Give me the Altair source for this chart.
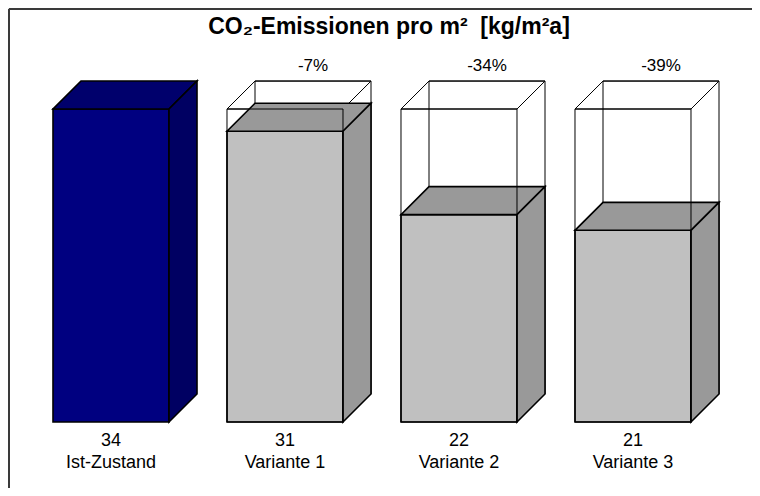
import altair as alt
import pandas as pd

# ---- data ----
categories = ["Ist-Zustand", "Variante 1", "Variante 2", "Variante 3"]
values = [33.8, 31.4, 22.4, 20.7]          # bar heights (kg/m²a)
value_labels = ["34", "31", "22", "21"]
pct_labels = ["", "-7%", "-34%", "-39%"]
title_text = "CO₂-Emissionen pro m²\u00a0 [kg/m²a]"

# ---- layout constants (slot units on x, data units on y) ----
PW, PH = 744, 480   # plot size in px
W = 2 / 3          # front face width as share of a slot
DX = 0.161         # 3D depth on x (slots)
DY = 3.02          # 3D depth on y (data units)
X_DOM = [-0.2586, -0.2586 + PW / 174]
Y_DOM = [-(PH - 414) / 9.26, 414 / 9.26]
REF = values[0]

front_cols = ["#000080", "#c0c0c0", "#c0c0c0", "#c0c0c0"]
top_cols = ["#00006c", "#999999", "#999999", "#999999"]
side_cols = ["#000062", "#999999", "#999999", "#999999"]

front_rows, top_rows, side_rows = [], [], []
wback_rows, wtop_rows, wfront_rows, lab_rows = [], [], [], []
for i, (c, v) in enumerate(zip(categories, values)):
    xl, xr = i, i + W
    front_rows.append(dict(id=c, x=xl, x2=xr, y=0, y2=v, col=front_cols[i]))
    for (px, lo, hi) in [(xl, v, v), (xl + DX, v, v + DY), (xr, v, v + DY), (xr + DX, v + DY, v + DY)]:
        top_rows.append(dict(id=c, x=px, y=lo, y2=hi, col=top_cols[i]))
    for (px, lo, hi) in [(xr, 0, v), (xr + DX, DY, v + DY)]:
        side_rows.append(dict(id=c, x=px, y=lo, y2=hi, col=side_cols[i]))
    lab_rows.append(dict(id=c, xc=xl + W / 2, xb=xl + DX + W / 2, val=value_labels[i],
                         pct=pct_labels[i], ytop=REF + DY))
    if i > 0:
        wback_rows.append(dict(id=c, x=xl + DX, x2=xr + DX, y=DY, y2=REF + DY))
        for (px, lo, hi) in [(xl, REF, REF), (xl + DX, REF, REF + DY), (xr, REF, REF + DY),
                             (xr + DX, REF + DY, REF + DY)]:
            wtop_rows.append(dict(id=c, x=px, y=lo, y2=hi))
        wfront_rows.append(dict(id=c, x=xl, x2=xr, y=0, y2=REF))

front = pd.DataFrame(front_rows)
top = pd.DataFrame(top_rows)
side = pd.DataFrame(side_rows)
wback = pd.DataFrame(wback_rows)
wtop = pd.DataFrame(wtop_rows)
wfront = pd.DataFrame(wfront_rows)
labs = pd.DataFrame(lab_rows)

xs = alt.Scale(domain=X_DOM, nice=False, zero=False)
ys = alt.Scale(domain=Y_DOM, nice=False, zero=False)
X = lambda f: alt.X(f, scale=xs, axis=None)
Y = lambda f: alt.Y(f, scale=ys, axis=None, stack=None)

wire_back = alt.Chart(wback).mark_rect(fillOpacity=0, stroke="#000000", strokeWidth=1).encode(
    x=X("x:Q"), x2="x2:Q", y=Y("y:Q"), y2="y2:Q")
wire_top = alt.Chart(wtop).mark_area(fillOpacity=0, stroke="#000000", strokeWidth=1).encode(
    x=X("x:Q"), y=Y("y:Q"), y2="y2:Q", detail="id:N")
solid_front = alt.Chart(front).mark_rect(stroke="#000000", strokeWidth=1.6).encode(
    x=X("x:Q"), x2="x2:Q", y=Y("y:Q"), y2="y2:Q", fill=alt.Fill("col:N", scale=None))
solid_top = alt.Chart(top).mark_area(stroke="#000000", strokeWidth=1.6, opacity=1).encode(
    x=X("x:Q"), y=Y("y:Q"), y2="y2:Q", detail="id:N", fill=alt.Fill("col:N", scale=None))
solid_side = alt.Chart(side).mark_area(stroke="#000000", strokeWidth=1.6, opacity=1).encode(
    x=X("x:Q"), y=Y("y:Q"), y2="y2:Q", detail="id:N", fill=alt.Fill("col:N", scale=None))
wire_front = alt.Chart(wfront).mark_rect(fillOpacity=0, stroke="#000000", strokeWidth=1).encode(
    x=X("x:Q"), x2="x2:Q", y=Y("y:Q"), y2="y2:Q")

FONT = "Liberation Sans"
val_text = alt.Chart(labs).mark_text(font=FONT, fontSize=18, dy=19, baseline="middle",
                                     color="#000000").encode(
    x=X("xc:Q"), y=alt.Y(datum=0, scale=ys, axis=None), text="val:N")
cat_text = alt.Chart(labs).mark_text(font=FONT, fontSize=18, dy=41, baseline="middle",
                                     color="#000000").encode(
    x=X("xc:Q"), y=alt.Y(datum=0, scale=ys, axis=None), text="id:N")
pct_text = alt.Chart(labs).mark_text(font=FONT, fontSize=17, dy=-15, baseline="middle",
                                     color="#000000").encode(
    x=X("xb:Q"), y=Y("ytop:Q"), text="pct:N")
title = alt.Chart(pd.DataFrame({"t": [title_text]})).mark_text(
    font=FONT, fontSize=23, fontWeight="bold", baseline="middle", color="#000000").encode(
    x=alt.value(381), y=alt.value(19), text="t:N")

frame_top = alt.Chart(pd.DataFrame({"a": [0]})).mark_rule(color="#3a3a3a", strokeWidth=2).encode(
    x=alt.value(1), x2=alt.value(PW), y=alt.value(1), y2=alt.value(1))
frame_left = alt.Chart(pd.DataFrame({"a": [0]})).mark_rule(color="#3a3a3a", strokeWidth=2).encode(
    x=alt.value(1), x2=alt.value(1), y=alt.value(1), y2=alt.value(PH))

chart = alt.layer(
    wire_back, wire_top, solid_front, solid_top, solid_side, wire_front,
    val_text, cat_text, pct_text, title, frame_top, frame_left
).properties(
    width=PW, height=PH, padding=0, autosize=alt.AutoSizeParams(type="none")
).configure_view(strokeWidth=0, stroke="transparent").configure(background="#ffffff")

chart.save("out.html", embed_options={"renderer": "svg", "actions": False})
